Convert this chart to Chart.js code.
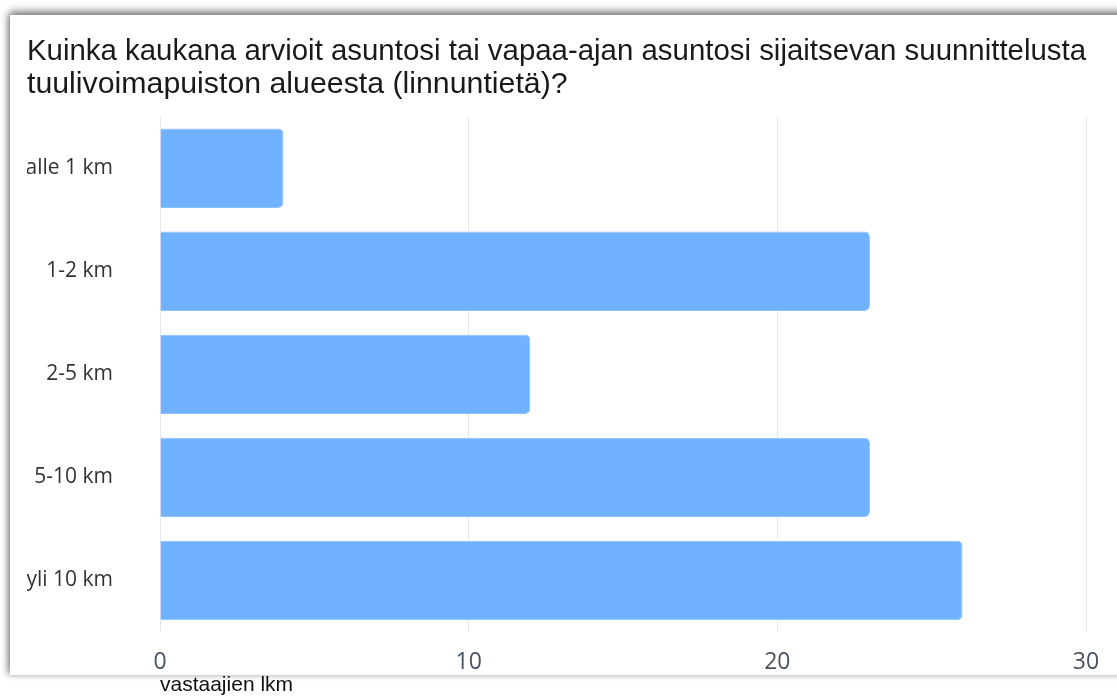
<!DOCTYPE html>
<html>
<head>
<meta charset="utf-8">
<script src="https://cdn.jsdelivr.net/npm/chart.js@4"></script>
<style>
  html, body { margin: 0; padding: 0; background: #ffffff; overflow: hidden; }
  body { width: 1117px; height: 698px; position: relative; }
  #card {
    position: absolute; left: 10px; top: 15px; width: 1140px; height: 660px;
    background: #ffffff;
    box-shadow: 0 -4px 8px rgba(0,0,0,0.45), -3px 0 6px rgba(0,0,0,0.25);
  }
  #wrap { position: absolute; left: 0; top: 0; width: 1117px; height: 698px; }
</style>
</head>
<body>
<div id="card"></div>
<div id="wrap"><canvas id="c" width="1117" height="698"></canvas></div>
<script>
const titleLines = [
  "Kuinka kaukana arvioit asuntosi tai vapaa-ajan asuntosi sijaitsevan suunnittelusta",
  "tuulivoimapuiston alueesta (linnuntietä)?"
];
const categories = ["alle 1 km", "1-2 km", "2-5 km", "5-10 km", "yli 10 km"];
const counts = [4, 23, 12, 23, 26];
const xTicks = [0, 10, 20, 30];
const xAxisTitle = "vastaajien lkm";

new Chart(document.getElementById("c"), {
  type: "bar",
  data: {
    labels: categories,
    datasets: [{
      data: counts,
      backgroundColor: "#70b2ff",
      borderColor: "#8cc0ff",
      borderWidth: 1,
      borderRadius: 5,
      borderSkipped: "start",
      categoryPercentage: 1,
      barPercentage: 0.77
    }]
  },
  options: {
    indexAxis: "y",
    responsive: false,
    animation: false,
    layout: { padding: { left: 27, right: 31, top: 35, bottom: 0 } },
    plugins: {
      legend: { display: false },
      tooltip: { enabled: false },
      title: {
        display: true,
        text: titleLines,
        align: "start",
        color: "#1a1a1a",
        font: { family: "Liberation Sans", size: 30.3, weight: "normal", lineHeight: 1.1 },
        padding: { top: 0, bottom: 15 }
      }
    },
    scales: {
      x: {
        min: 0, max: 30,
        afterBuildTicks: (s) => { s.ticks = xTicks.map(v => ({ value: v })); },
        afterFit: (s) => { s.height = 66; },
        grid: { color: "#e6e9ec", drawTicks: false, lineWidth: 1 },
        border: { display: false },
        ticks: {
          color: "#4a5260",
          padding: 17,
          font: { family: "Open Sans", size: 23 }
        },
        title: {
          display: true,
          text: xAxisTitle,
          align: "start",
          color: "#111",
          padding: { top: 0, bottom: 0 },
          font: { family: "Liberation Sans", size: 21 }
        }
      },
      y: {
        grid: { display: false, drawTicks: false },
        border: { display: false },
        afterFit: (s) => { s.width = 133; },
        ticks: {
          color: "#333",
          padding: 47,
          font: { family: "Open Sans", size: 21 }
        }
      }
    }
  }
});
</script>
</body>
</html>
